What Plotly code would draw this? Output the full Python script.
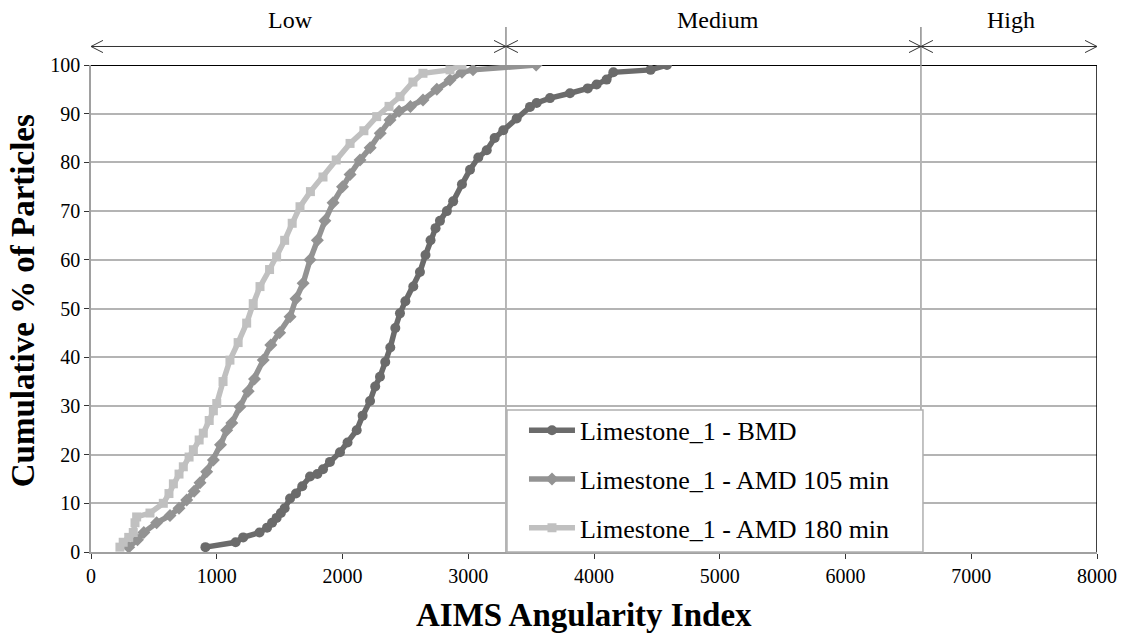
import plotly.graph_objects as go

# ---- data ----
bmd_x = [910, 1150, 1210, 1340, 1400, 1440, 1476, 1510, 1540, 1583, 1630, 1680, 1742, 1800, 1845,
         1900, 1980, 2040, 2113, 2160, 2219, 2260, 2298, 2340, 2380, 2420, 2457, 2500, 2563, 2616,
         2660, 2700, 2740, 2775, 2830, 2880, 2950, 3014, 3080, 3147, 3210, 3279, 3385, 3491, 3544,
         3650, 3809, 3950, 4021, 4100, 4154, 4450, 4580]
bmd_y = [1, 2, 3, 4, 5, 6, 7, 8, 9, 11, 12, 13.5, 15.5, 16, 17,
         18.5, 20.5, 22.5, 25, 28, 31, 34, 36, 39, 42, 46, 49, 51.5, 54.5, 57.5,
         61, 64, 66.5, 68, 70, 72, 75.5, 78.5, 81, 82.5, 85, 86.6, 89, 91.4, 92.2,
         93.2, 94.2, 95.2, 96, 97, 98.5, 99, 100]

amd105_x = [300, 370, 420, 522, 628, 700, 761, 820, 867, 920, 973, 1030, 1079, 1120, 1185,
            1250, 1300, 1370, 1430, 1500, 1583, 1630, 1687, 1742, 1800, 1860, 1925, 2000, 2060,
            2139, 2220, 2300, 2378, 2450, 2540, 2640, 2750, 2855, 2950, 3038, 3540]
amd105_y = [1, 2.5, 4, 6, 7.5, 9, 10.7, 12.5, 14.2, 16.5, 18.9, 22, 25, 26.5, 29.8,
            33, 35.5, 39.4, 42.5, 45, 48.3, 52, 55.2, 60, 64, 68, 71.7, 75, 77.5,
            80.5, 83, 86, 88.7, 90.5, 91.5, 92.8, 95, 96.9, 98.5, 99, 100]

amd180_x = [230, 256, 300, 336, 350, 363, 469, 575, 620, 655, 700, 734, 780, 814, 860, 893,
            940, 973, 1000, 1050, 1105, 1170, 1238, 1290, 1344, 1420, 1476, 1540, 1600, 1662,
            1745, 1845, 1950, 2060, 2170, 2272, 2370, 2457, 2560, 2640, 2855, 2950]
amd180_y = [1, 2, 3, 4, 6, 7.2, 8, 10, 12, 14, 16, 17.5, 19.5, 21, 23, 24.4,
            27, 29, 30.5, 35, 39.4, 43, 47, 51, 54.5, 58, 60.6, 64, 67.5, 70.9,
            74, 77, 80.5, 83.9, 86.5, 89.4, 91.5, 93.5, 96.5, 98.3, 99, 100]

series_names = ["Limestone_1 - BMD", "Limestone_1 - AMD 105 min", "Limestone_1 - AMD 180 min"]
zone_labels = ["Low", "Medium", "High"]
zone_bounds = [0, 3300, 6600, 8000]
x_ticks = [0, 1000, 2000, 3000, 4000, 5000, 6000, 7000, 8000]
y_ticks = [0, 10, 20, 30, 40, 50, 60, 70, 80, 90, 100]
x_title = "AIMS Angularity Index"
y_title = "Cumulative % of Particles"

FONT = "Liberation Serif"

fig = go.Figure()
styles = [
    dict(color="#6b6b6b", symbol="circle", size=10),
    dict(color="#939393", symbol="diamond", size=10),
    dict(color="#c0c0c0", symbol="square", size=9),
]
for i, (xs, ys) in enumerate([(bmd_x, bmd_y), (amd105_x, amd105_y), (amd180_x, amd180_y)]):
    st = styles[i]
    fig.add_trace(go.Scatter(
        x=xs, y=ys, name=series_names[i], mode="lines+markers",
        line=dict(color=st["color"], width=5.5),
        marker=dict(color=st["color"], symbol=st["symbol"], size=st["size"]),
        legendgroup=f"g{i}",
    ))

shapes = []
# frame: black top and right edges
shapes.append(dict(type="line", xref="x", yref="y", x0=0, x1=8000, y0=100, y1=100,
                   line=dict(color="black", width=2), layer="below"))
shapes.append(dict(type="line", xref="x", yref="y", x0=8000, x1=8000, y0=0, y1=100,
                   line=dict(color="black", width=1.5)))

ya = 1.038
ah_dx = 95
ah_dy = 0.0125
for b in zone_bounds[1:-1]:
    shapes.append(dict(type="line", xref="x", yref="y", x0=b, x1=b, y0=0, y1=100,
                       line=dict(color="#a0a0a0", width=1.5), layer="below"))
    shapes.append(dict(type="line", xref="x", yref="paper", x0=b, x1=b, y0=1.0, y1=1.078,
                       line=dict(color="#555555", width=1)))
for a, b in zip(zone_bounds[:-1], zone_bounds[1:]):
    shapes.append(dict(type="line", xref="x", yref="paper", x0=a, x1=b, y0=ya, y1=ya,
                       line=dict(color="#333333", width=1)))
    shapes.append(dict(type="path", xref="x", yref="paper",
                       path=f"M {a+ah_dx},{ya+ah_dy} L {a},{ya} L {a+ah_dx},{ya-ah_dy}",
                       line=dict(color="#333333", width=1)))
    shapes.append(dict(type="path", xref="x", yref="paper",
                       path=f"M {b-ah_dx},{ya+ah_dy} L {b},{ya} L {b-ah_dx},{ya-ah_dy}",
                       line=dict(color="#333333", width=1)))

# legend box (white, light grey border)
shapes.append(dict(type="rect", xref="paper", yref="paper", x0=0.4135, x1=0.827, y0=0.0, y1=0.2916,
                   fillcolor="white", line=dict(color="#b0b0b0", width=1.5), layer="above"))

annotations = []
label_pos = [1590, 4990, 7320]
for lab, xp in zip(zone_labels, label_pos):
    annotations.append(dict(x=xp, y=1.092, xref="x", yref="paper", text=lab,
                            showarrow=False, font=dict(family=FONT, size=24, color="black"),
                            xanchor="center", yanchor="middle"))
annotations.append(dict(x=0.49, y=-0.1298, xref="paper", yref="paper", text=f"<b>{x_title}</b>",
                        showarrow=False, font=dict(family=FONT, size=33, color="black"),
                        xanchor="center", yanchor="middle"))
annotations.append(dict(x=-0.0676, y=0.517, xref="paper", yref="paper", text=f"<b>{y_title}</b>",
                        showarrow=False, textangle=-90, font=dict(family=FONT, size=33, color="black"),
                        xanchor="center", yanchor="middle"))

fig.update_layout(
    width=1125, height=636,
    margin=dict(l=91, r=28, t=65, b=84),
    paper_bgcolor="white", plot_bgcolor="white",
    font=dict(family=FONT, color="black"),
    shapes=shapes, annotations=annotations,
    showlegend=True,
    legend=dict(x=0.4304, y=0.298, xanchor="left", yanchor="top",
                bgcolor="rgba(0,0,0,0)", borderwidth=0,
                font=dict(family=FONT, size=26, color="black"),
                tracegroupgap=12, itemwidth=46),
)
fig.update_xaxes(
    range=[0, 8000], tickvals=x_ticks, ticktext=[str(v) for v in x_ticks],
    showgrid=False, zeroline=False, automargin=False,
    showline=True, linecolor="#a0a0a0", linewidth=1.5,
    ticks="outside", ticklen=5, tickcolor="#333333",
    tickfont=dict(family=FONT, size=20, color="black"),
)
fig.update_yaxes(
    range=[0, 100], tickvals=y_ticks, ticktext=[str(v) for v in y_ticks],
    showgrid=True, gridcolor="#b4b4b4", gridwidth=1.5, zeroline=False, automargin=False,
    showline=True, linecolor="#a0a0a0", linewidth=1.5,
    ticks="outside", ticklen=5, tickcolor="#333333",
    tickfont=dict(family=FONT, size=20, color="black"),
)

fig.write_html("out.html", config={"displayModeBar": False},
               post_script="document.body.style.margin='0';document.body.style.padding='0';")
